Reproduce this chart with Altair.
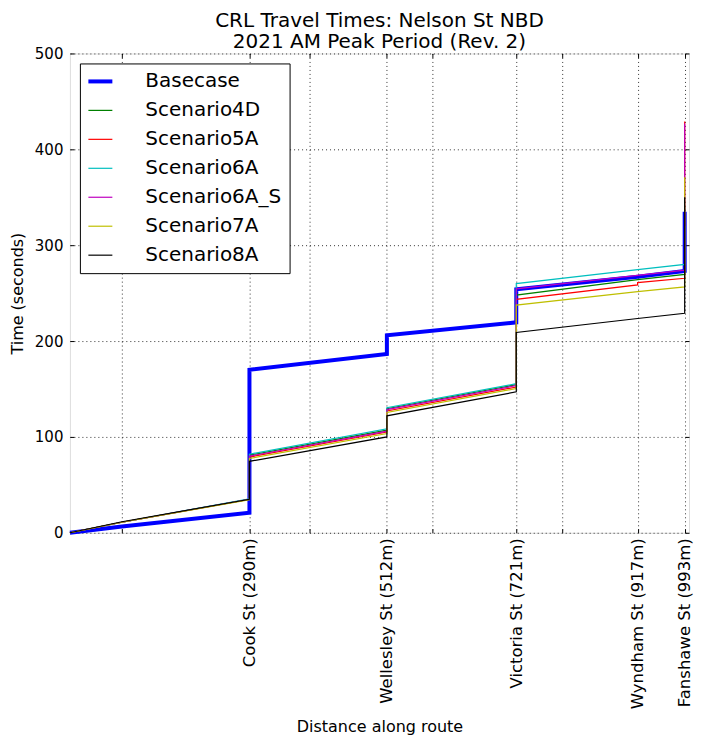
import altair as alt
import pandas as pd

# ---- data ----
series_names = ["Basecase", "Scenario4D", "Scenario5A", "Scenario6A",
                "Scenario6A_S", "Scenario7A", "Scenario8A"]
series_colors = ["#0000ff", "#008000", "#ff0000", "#00bfbf",
                 "#bf00bf", "#bfbf00", "#000000"]
series_widths = [4, 1.2, 1.2, 1.2, 1.2, 1.2, 1.2]

distance = [0, 84, 290, 290, 512, 512, 721, 721, 917, 917, 993, 993]

basecase     = [0, 6.5, 21, 170, 186.5, 206, 219.5, 254, 267, 267, 273, 335]
scenario4d   = [0, 11, 35, 81, 107, 129.5, 154.5, 248, 264, 264, 269.5, 340]
scenario5a   = [0, 11, 35, 79, 105, 127, 152, 243.5, 258.5, 261, 265.5, 429]
scenario6a   = [0, 11, 35.5, 82, 108.5, 130.5, 155.5, 260, 274.5, 274.5, 280, 320]
scenario6a_s = [0, 11, 35, 80, 106, 128.5, 153.5, 254.5, 268.5, 268.5, 274, 427]
scenario7a   = [0, 11, 34.5, 77.5, 103.5, 125.5, 150.5, 237.5, 251.5, 251.5, 256.5, 371]
scenario8a   = [0, 11.5, 35, 74.5, 100, 122, 147, 209, 223.5, 223.5, 229, 350]

x_tick_values = [84, 290, 387, 512, 585, 721, 795, 917, 993]
x_tick_labels = ["", "Cook St (290m)", "", "Wellesley St (512m)", "",
                 "Victoria St (721m)", "", "Wyndham St (917m)", "Fanshawe St (993m)"]
y_tick_values = [0, 100, 200, 300, 400, 500]

all_series = [basecase, scenario4d, scenario5a, scenario6a,
              scenario6a_s, scenario7a, scenario8a]

rows = []
for name, vals in zip(series_names, all_series):
    for i, (d, t) in enumerate(zip(distance, vals)):
        rows.append({"series": name, "idx": i, "dist": d, "time": t})
df = pd.DataFrame(rows)

label_expr = " : ".join(
    f"datum.value == {v} ? '{l}'" for v, l in zip(x_tick_values, x_tick_labels)
) + " : ''"

FONT = "DejaVu Sans"

x_scale = alt.Scale(domain=[0, 1000], nice=False, zero=False)
y_scale = alt.Scale(domain=[0, 500], nice=False, zero=False)

legend = alt.Legend(
    title=None, orient="none", legendX=10, legendY=10,
    symbolType="M-1.55,0H1.55", symbolSize=240, symbolOffset=2.5,
    labelFontSize=20, labelFont=FONT, labelColor="black",
    labelOffset=35, padding=8, rowPadding=9,
    strokeColor="black", fillColor="white", cornerRadius=0,
)

lines = alt.Chart(df).mark_line().encode(
    x=alt.X("dist:Q", scale=x_scale, axis=alt.Axis(
        values=x_tick_values, labelExpr=label_expr, labelAngle=270,
        labelOverlap=False, labelFlush=False,
        grid=True, gridDash=[1, 3], gridColor="black", gridWidth=0.8,
        domain=False, ticks=True, tickSize=4, tickColor="black", tickWidth=1,
        offset=-4, labelPadding=5, labelFontSize=16.5, labelFont=FONT,
        labelColor="black",
        title="Distance along route", titleFont=FONT, titleFontSize=16,
        titleFontWeight="normal", titleColor="black",
        titleY=203, titleBaseline="alphabetic")),
    y=alt.Y("time:Q", scale=y_scale, axis=alt.Axis(
        values=y_tick_values, grid=True, gridDash=[1, 3], gridColor="black",
        gridWidth=0.8, domain=False, ticks=True, tickSize=4,
        tickColor="black", tickWidth=1, offset=-4, labelPadding=7,
        labelFontSize=15, labelFont=FONT, labelColor="black",
        title="Time (seconds)", titleFont=FONT, titleFontSize=16,
        titleFontWeight="normal", titleColor="black",
        titleX=-51, titleBaseline="alphabetic")),
    color=alt.Color("series:N", scale=alt.Scale(domain=series_names,
                                                range=series_colors),
                    legend=legend),
    strokeWidth=alt.StrokeWidth("series:N",
                                scale=alt.Scale(type="ordinal",
                                                domain=series_names,
                                                range=series_widths),
                                legend=legend),
    order=alt.Order("idx:Q"),
)

frame_ticks = alt.Chart(df).mark_point(opacity=0).encode(
    x=alt.X("dist:Q", scale=x_scale, axis=alt.Axis(
        orient="top", values=x_tick_values, labels=False, grid=False,
        domain=False, ticks=True, tickSize=4, tickColor="black",
        offset=-4, title=None)),
    y=alt.Y("time:Q", scale=y_scale, axis=alt.Axis(
        orient="right", values=y_tick_values, labels=False, grid=False,
        domain=False, ticks=True, tickSize=4, tickColor="black",
        offset=-4, title=None)),
)

chart = alt.layer(lines, frame_ticks).resolve_axis(
    x="independent", y="independent"
).properties(
    width=620, height=480,
    title=alt.TitleParams(
        ["CRL Travel Times: Nelson St NBD", "2021 AM Peak Period (Rev. 2)"],
        fontSize=20, font=FONT, fontWeight="normal", color="black",
        lineHeight=22, anchor="middle", offset=-6),
    autosize=alt.AutoSizeParams(type="none"),
    padding={"left": 62, "top": 45, "right": 8, "bottom": 208},
).configure_view(stroke="black", strokeWidth=1).configure(background="white")

chart.save("out.html", embed_options={"renderer": "svg", "actions": False})
